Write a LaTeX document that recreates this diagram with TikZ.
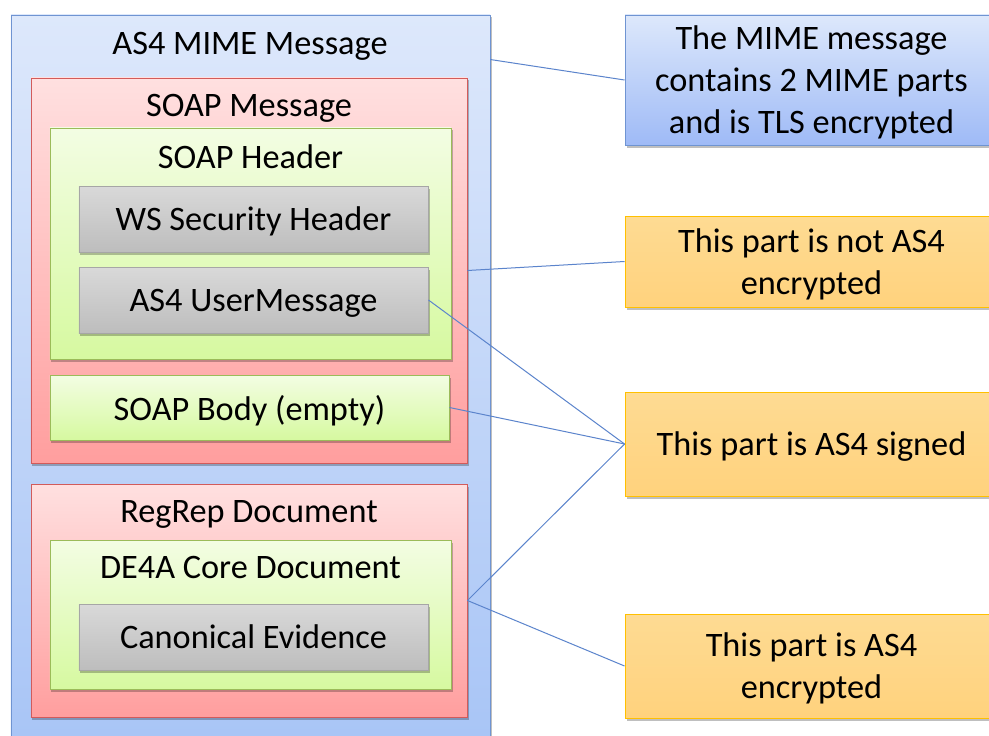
\documentclass[tikz,border=0pt]{standalone}
\usepackage{fontspec}
\setmainfont{Carlito}
\usetikzlibrary{shadows,calc}
\definecolor{bluetop}{HTML}{DDE8FB}
\definecolor{bluebot}{HTML}{A7C4F6}
\definecolor{blueline}{HTML}{6F94D2}
\definecolor{redtop}{HTML}{FFE0E0}
\definecolor{redbot}{HTML}{FF9E9E}
\definecolor{redline}{HTML}{D25B5B}
\definecolor{greentop}{HTML}{F3FDE3}
\definecolor{greenbot}{HTML}{D6F9A0}
\definecolor{greenline}{HTML}{9BBB59}
\definecolor{graytop}{HTML}{D9D9D9}
\definecolor{graybot}{HTML}{BDBDBD}
\definecolor{grayline}{HTML}{A6A6A6}
\definecolor{yeltop}{HTML}{FEDB93}
\definecolor{yelbot}{HTML}{FFD27D}
\definecolor{yelline}{HTML}{FFC000}
\definecolor{conn}{HTML}{5B84CC}
\begin{document}
\begin{tikzpicture}[x=1bp,y=-1bp,
  every node/.style={font=\fontsize{34.3bp}{42bp}\selectfont, text=black, inner sep=0pt, text depth=0pt},
  box/.style={rectangle, line width=0.9bp, drop shadow={shadow xshift=1.5bp, shadow yshift=-2.5bp, opacity=0.25, fill=black}},
  bluebox/.style={box, draw=blueline, top color=bluetop, bottom color=bluebot},
  redbox/.style={box, draw=redline, top color=redtop, bottom color=redbot},
  greenbox/.style={box, draw=greenline, top color=greentop, bottom color=greenbot},
  graybox/.style={box, draw=grayline, top color=graytop, bottom color=graybot},
  yelbox/.style={box, draw=yelline, top color=yeltop, bottom color=yelbot, align=center},
  notebox/.style={box, draw=blueline, top color=bluetop, bottom color=bluebot!95!blue, align=center},
  connector/.style={draw=conn, line width=1bp}
]
\useasboundingbox (0,0) rectangle (989,736);
\clip (0,0) rectangle (989,736);
\fill[white] (0,0) rectangle (989,736);

% outer MIME box
\node[bluebox, minimum width=479bp, minimum height=745bp] (outer) at (250.5,387.5) {};
\node (outert) at (250,43) {AS4 MIME Message};

% SOAP message
\node[redbox, minimum width=436bp, minimum height=385bp] (soapmsg) at (249,270.5) {};
\node (soapmsgt) at (249,105) {SOAP Message};

% SOAP header
\node[greenbox, minimum width=401bp, minimum height=231bp] (soaphdr) at (250.5,243.5) {};
\node (soaphdrt) at (250.5,157) {SOAP Header};

\node[graybox, minimum width=349bp, minimum height=66bp] (wssec) at (253.5,219) {WS Security Header};
\node[graybox, minimum width=349bp, minimum height=66bp] (usermsg) at (253.5,300) {AS4 UserMessage};

% SOAP body
\node[greenbox, minimum width=399bp, minimum height=65bp] (soapbody) at (249.5,407.5) {SOAP Body (empty)};

% RegRep
\node[redbox, minimum width=436bp, minimum height=233bp] (regrep) at (249,600.5) {};
\node (regrept) at (249,511) {RegRep Document};
\node[greenbox, minimum width=401bp, minimum height=149bp] (de4a) at (250.5,614.5) {};
\node (de4at) at (250.5,567) {DE4A Core Document};
\node[graybox, minimum width=349bp, minimum height=66bp] (canon) at (253.5,637) {Canonical Evidence};

% notes
\node[notebox, minimum width=373bp, minimum height=130bp] (note1) at (811.5,80) {The MIME message\\contains 2 MIME parts\\and is TLS encrypted};
\node[yelbox, minimum width=373bp, minimum height=91bp] (note2) at (811.5,261.5) {This part is not AS4\\encrypted};
\node[yelbox, minimum width=373bp, minimum height=104bp] (note3) at (811.5,444) {This part is AS4 signed};
\node[yelbox, minimum width=373bp, minimum height=104bp] (note4) at (811.5,666) {This part is AS4\\encrypted};

% connectors
\coordinate (o1) at ($(outer.north east)+(0,45)$);
\draw[connector] (o1) -- (note1.west);
\draw[connector] (soapmsg.east) -- (note2.west);
\draw[connector] (usermsg.east) -- (note3.west);
\draw[connector] (soapbody.east) -- (note3.west);
\draw[connector] (regrep.east) -- (note3.west);
\draw[connector] (regrep.east) -- (note4.west);
\end{tikzpicture}
\end{document}
